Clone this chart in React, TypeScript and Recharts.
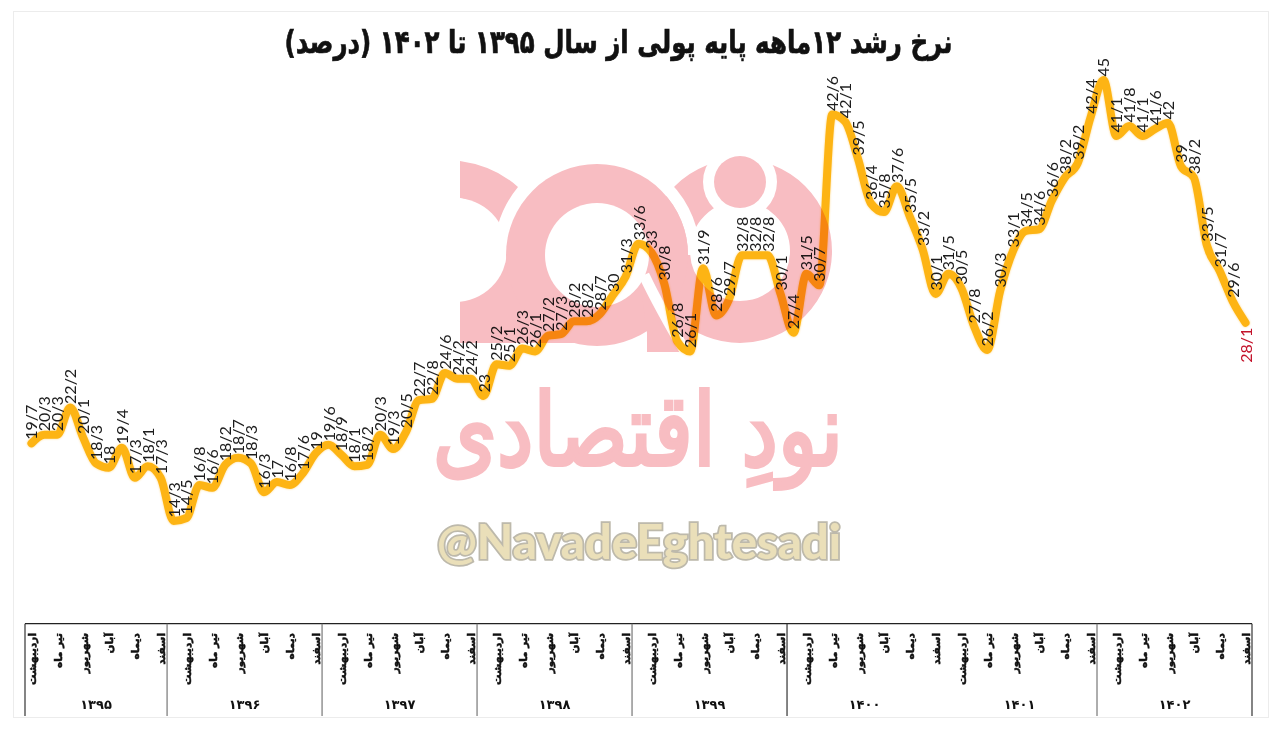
import React from 'react';
import { LineChart, Line, XAxis, YAxis, LabelList } from 'recharts';

const TITLE = 'نرخ رشد ۱۲ماهه پایه پولی از سال ۱۳۹۵ تا ۱۴۰۲ (درصد)';
const YEARS = ['۱۳۹۵', '۱۳۹۶', '۱۳۹۷', '۱۳۹۸', '۱۳۹۹', '۱۴۰۰', '۱۴۰۱', '۱۴۰۲'];
const MONTHS = ['فروردین', 'اردیبهشت', 'خرداد', 'تیر ماه', 'مرداد', 'شهریور', 'مهر', 'آبان', 'آذر', 'دیماه', 'بهمن', 'اسفند'];
const r1395 = [19.7, 20.3, 20.3, 22.2, 20.1, 18.3, 18, 19.4, 17.3, 18.1, 17.3];
const r1396 = [14.3, 14.5, 16.8, 16.6, 18.2, 18.7, 18.3, 16.3, 17, 16.8, 17.6, 19];
const r1397 = [19.6, 18.9, 18.1, 18.2, 20.3, 19.3, 20.5, 22.7, 22.8, 24.6, 24.2, 24.2];
const r1398 = [23, 25.2, 25.1, 26.3, 26.1, 27.2, 27.3, 28.2, 28.2, 28.7, 30, 31.3];
const r1399 = [33.6, 33, 30.8, 26.8, 26.1, 31.9, 28.6, 29.7, 32.8, 32.8, 32.8, 30.1];
const r1400 = [27.4, 31.5, 30.7, 42.6, 42.1, 39.5, 36.4, 35.8, 37.6, 35.5, 33.2, 30.1];
const r1401 = [31.5, 30.5, 27.8, 26.2, 30.3, 33.1, 34.5, 34.6, 36.6, 38.2, 39.2, 42.4];
const r1402 = [45, 41.1, 41.8, 41.1, 41.6, 42, 39, 38.2, 33.5, 31.7, 29.6, 28.1];
const SERIES = [r1395, r1396, r1397, r1398, r1399, r1400, r1401, r1402];

const data: any[] = [];
SERIES.forEach((vals, yi) => {
  const first = yi === 0 ? 1 : 0;
  vals.forEach((v, k) => {
    data.push({
      i: data.length,
      value: v,
      label: String(v).replace('.', '/'),
      month: MONTHS[first + k],
      yearIndex: yi,
      showMonth: (first + k) % 2 === 1,
      yearStart: k === 0,
      yearMid: k === Math.floor((vals.length - 1) / 2),
      midOff: vals.length % 2 === 0 ? 0.5 : 0,
    });
  });
});

const STEP = 12.92;
const FONT_FA = '"DejaVu Sans", sans-serif';

function AxisTick(props: any) {
  const { x, index } = props;
  const d = data[index];
  if (!d) return null;
  const top = 623.7;
  const divider = d.yearStart && d.yearIndex !== 6;
  const last = index === data.length - 1;
  return (
    <g>
      {divider && <line x1={x - STEP / 2} x2={x - STEP / 2} y1={top} y2={716} stroke={d.yearIndex === 0 || d.yearIndex === 5 ? '#333' : '#777'} strokeWidth={1.2} />}
      {last && <line x1={x + STEP / 2} x2={x + STEP / 2} y1={top} y2={716} stroke="#333" strokeWidth={1.2} />}
      {d.showMonth && (
        <text transform={`translate(${x + 4.5},633) rotate(-90)`} textAnchor="end" fontFamily={FONT_FA} fontWeight={700} fontSize={10.5} fill="#111" stroke="#111" strokeWidth={0.5}>
          {d.month}
        </text>
      )}
      {d.yearMid && (
        <text x={x + d.midOff * STEP} y={709} textAnchor="middle" fontFamily={FONT_FA} fontWeight={700} fontSize={13} fill="#111">
          {YEARS[d.yearIndex]}
        </text>
      )}
    </g>
  );
}

function ValueLabel(props: any) {
  const { x, y, value, index } = props;
  const last = index === data.length - 1;
  if (last) {
    return (
      <text transform={`translate(${x + 6},${y + 40}) rotate(-90)`} textAnchor="start" fontFamily="Lato, sans-serif" fontSize={16} fill="#C4142C">
        {value}
      </text>
    );
  }
  return (
    <text transform={`translate(${x + 6},${y - 3.5}) rotate(-90)`} textAnchor="start" fontFamily="Lato, sans-serif" fontSize={16} fill="#1c1c1c">
      {value}
    </text>
  );
}

const PINK = '#F8BDC2';

function Watermark() {
  return (
    <svg width={1280} height={729} style={{ position: 'absolute', left: 0, top: 0, mixBlendMode: 'multiply', pointerEvents: 'none' }}>
      <path d="M460,161 Q495,166 518,187 Q504,204 498,225 Q482,203 460,198 Z" fill={PINK} />
      <rect x={460} y={250} width={140} height={93} fill={PINK} />
      <circle cx={455} cy={250} r={52} fill="#fff" />
      <circle cx={740} cy={251} r={71} fill="none" stroke={PINK} strokeWidth={42} />
      <path d="M597,158 A97,97 0 0 1 694,255" fill="none" stroke="#fff" strokeWidth={12} />
      <circle cx={597} cy={255} r={91} fill={PINK} />
      <path d="M665,285 L700,310 L695,340 L683,345 Z" fill={PINK} />
      <path d="M640,281 L685,352 L647,352 L647,333 Z" fill={PINK} />
      <circle cx={597} cy={255} r={52} fill="#fff" />
      <path d="M644,275 C652,292 668,322 689,358" fill="none" stroke="#fff" strokeWidth={11} />
      <rect x={640} y={353} width={70} height={12} fill="#fff" />
      <circle cx={740} cy={182} r={37} fill="#fff" />
      <circle cx={740} cy={182} r={26} fill={PINK} />
      <text x={638} y={465} textAnchor="middle" fontFamily={FONT_FA} fontSize={100} fill={PINK} stroke={PINK} strokeWidth={4} textLength={410} lengthAdjust="spacingAndGlyphs">
        نودِ اقتصادی
      </text>
      <text x={639} y={559} textAnchor="middle" fontFamily="Lato, sans-serif" fontWeight={900} fontSize={47} fill="#EADFB9" stroke="#BDB9AB" strokeWidth={3.5} paintOrder="stroke" textLength={404} lengthAdjust="spacingAndGlyphs">
        @NavadeEghtesadi
      </text>
    </svg>
  );
}

export default function App() {
  return (
    <div style={{ position: 'absolute', left: 0, top: 0, width: 1280, height: 729, background: '#fff', overflow: 'hidden' }}>
      <div style={{ position: 'absolute', left: 13, top: 11, width: 1254, height: 705, border: '1px solid #ececec' }} />
      <svg width={1280} height={70} style={{ position: 'absolute', left: 0, top: 0 }}>
        <text x={618.5} y={53} textAnchor="middle" direction="rtl" fontFamily={FONT_FA} fontWeight={700} fontSize={32} fill="#111" stroke="#111" strokeWidth={0.7} textLength={668} lengthAdjust="spacingAndGlyphs">
          {TITLE}
        </text>
      </svg>
      <div style={{ position: 'absolute', left: 0, top: 0 }}>
        <LineChart width={1280} height={729} data={data} margin={{ top: 8.2, right: 28, bottom: 5.3, left: 25 }}>
          <XAxis dataKey="i" type="category" height={100} interval={0} tickLine={false} axisLine={{ stroke: '#222', strokeWidth: 1.2 }} padding={{ left: STEP / 2, right: STEP / 2 }} tick={<AxisTick />} />
          <YAxis hide domain={[7.14, 50]} allowDataOverflow />
          <Line dataKey="value" type="monotone" stroke="#FDB414" strokeWidth={8} strokeLinecap="round" strokeLinejoin="round" dot={false} isAnimationActive={false} style={{ filter: 'drop-shadow(0 0 1.2px #ffd98a)' }}>
            <LabelList dataKey="label" content={<ValueLabel />} />
          </Line>
        </LineChart>
      </div>
      <Watermark />
    </div>
  );
}
